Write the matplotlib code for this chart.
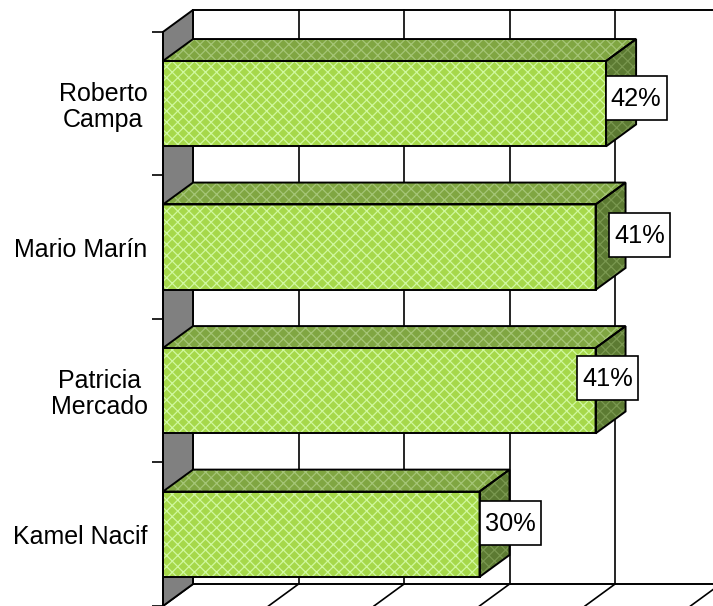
import matplotlib
matplotlib.use("Agg")
import matplotlib.pyplot as plt
from matplotlib.patches import Polygon, Rectangle
from matplotlib.transforms import Affine2D, ScaledTranslation

# ---- data ----
categories = ["Kamel Nacif", "Patricia\nMercado", "Mario Marín", "Roberto\nCampa"]
values = [0.30, 0.41, 0.41, 0.42]
value_labels = ["30%", "41%", "41%", "42%"]
x_ticks = [0.0, 0.1, 0.2, 0.3, 0.4, 0.5]

# label placement tweaks (pixels, relative to bar end at mid depth)
label_off_x = [1, -18, 14, 0]
label_off_y = [11, 13, 12, 6]

plt.rcParams["font.family"] = ["Liberation Sans", "DejaVu Sans"]
plt.rcParams["hatch.linewidth"] = 0.9

W, H = 713, 606
fig = plt.figure(figsize=(W / 100, H / 100), dpi=100)

# axes: front plane; left edge at 163px
left_px = 163
px_per_unit_x = 1055.0
px_per_cat = 144.0
xmax = (W - left_px) / px_per_unit_x
ylo = -0.5 + 2 / px_per_cat
yhi = 3.5 + 32 / px_per_cat
ax = fig.add_axes([left_px / W, 0, 1 - left_px / W, 1])
ax.set_xlim(0, xmax)
ax.set_ylim(ylo, yhi)

dx = 30 / px_per_unit_x      # depth offset in x (data units)
dy = 22 / px_per_cat         # depth offset in y (data units)
bar_h = 0.595
lw = 1.4
n = len(categories)
y0, y1 = -0.5, n - 0.5
xend = x_ticks[-1]

# back wall
ax.add_patch(Polygon([(dx, y0 + dy), (xend + dx, y0 + dy), (xend + dx, y1 + dy), (dx, y1 + dy)],
                     closed=True, facecolor="white", edgecolor="none", zorder=1, clip_on=False))
# gridlines on back wall and floor
for t in x_ticks:
    ax.plot([t + dx, t + dx], [y0 + dy, y1 + dy], color="black", lw=1.2, zorder=2, clip_on=False)
    ax.plot([t, t + dx], [y0, y0 + dy], color="black", lw=1.2, zorder=2, clip_on=False)
ax.plot([dx, xend + dx + 0.1], [y0 + dy, y0 + dy], color="black", lw=lw, zorder=2, clip_on=False)
ax.plot([dx, xend + dx + 0.1], [y1 + dy, y1 + dy], color="black", lw=lw, zorder=2, clip_on=False)

# left side wall (gray)
ax.add_patch(Polygon([(0, y0), (dx, y0 + dy), (dx, y1 + dy), (0, y1)], closed=True,
                     facecolor="#808080", edgecolor="black", lw=lw, zorder=2.5, clip_on=False))

front_fc, front_hc = "#A6D84A", "#D0F8A0"
top_fc, top_hc = "#80A642", "#A5C577"
side_fc, side_hc = "#5C7A32", "#7A9850"
hatch = "xxx"


def face(pts, fc, hc, z):
    ax.add_patch(Polygon(pts, closed=True, facecolor=fc, edgecolor=hc, hatch=hatch,
                         lw=0, zorder=z, clip_on=False))
    ax.add_patch(Polygon(pts, closed=True, facecolor="none", edgecolor="black",
                         lw=lw, zorder=z + 0.1, clip_on=False))


box_w, box_h = 61, 44
for i, (v, lab) in enumerate(zip(values, value_labels)):
    b, t = i - bar_h / 2, i + bar_h / 2
    z = 3 + (n - i)
    face([(0, b), (v, b), (v, t), (0, t)], front_fc, front_hc, z)
    face([(0, t), (v, t), (v + dx, t + dy), (dx, t + dy)], top_fc, top_hc, z)
    face([(v, b), (v + dx, b + dy), (v + dx, t + dy), (v, t)], side_fc, side_hc, z)
    tr = Affine2D().translate(label_off_x[i], label_off_y[i]) + \
        ScaledTranslation(v + dx, i, ax.transData)
    ax.add_patch(Rectangle((-box_w / 2, -box_h / 2), box_w, box_h, transform=tr,
                           facecolor="white", edgecolor="black", lw=1.2, zorder=19,
                           clip_on=False))
    ax.annotate(lab, xy=(v + dx, i), xytext=(label_off_x[i], label_off_y[i] - 1),
                textcoords="offset pixels", ha="center", va="center", fontsize=18.3,
                color="black", zorder=20, annotation_clip=False)

# axes styling: only the front vertical axis
for s in ["top", "right", "bottom"]:
    ax.spines[s].set_visible(False)
ax.spines["left"].set_bounds(y0, y1)
ax.spines["left"].set_linewidth(lw)
ax.spines["left"].set_zorder(15)
ax.set_xticks([])
ax.set_yticks(range(n))
ax.set_yticklabels(categories, fontsize=18, linespacing=1.1)
for tl in ax.get_yticklabels():
    tl.set_multialignment("center")
ax.set_yticks([k - 0.5 for k in range(n + 1)], minor=True)
ax.tick_params(axis="y", which="major", length=0, pad=11)
ax.tick_params(axis="y", which="minor", length=8, width=1.2, direction="out")

fig.savefig("out.png", dpi=100)
